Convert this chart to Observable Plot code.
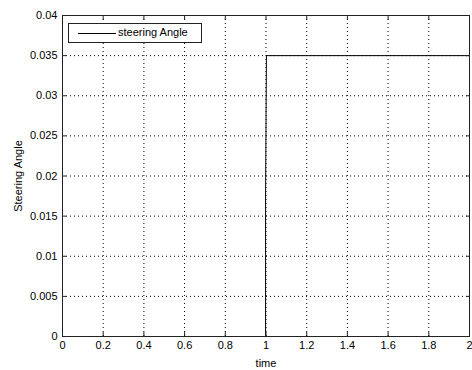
<!DOCTYPE html>
<html>
<head>
<meta charset="utf-8">
<script src="https://cdn.jsdelivr.net/npm/d3@7"></script>
<script src="https://cdn.jsdelivr.net/npm/@observablehq/plot@0.6"></script>
<style>
  html, body { margin: 0; padding: 0; background: #fff; }
  #wrap { position: relative; width: 472px; height: 370px; font-family: "Liberation Sans", Arial, sans-serif; }
  #legend { position: absolute; left: 68px; top: 23px; width: 132px; height: 18px; border: 1px solid #222; background: #fff; }
  #legend .sw { position: absolute; left: 9px; top: 9px; width: 38px; height: 0; border-top: 1px solid #000; }
  #legend .tx { position: absolute; left: 49px; top: 2px; font-size: 11px; color: #000; white-space: nowrap; }
</style>
</head>
<body>
<div id="wrap"></div>
<script>
const seriesName = "steering Angle";
const time = [0, 0.998, 0.998, 1.002, 2];
const angle = [0, 0, 0.0175, 0.035, 0.035];
const xTicks = [0, 0.2, 0.4, 0.6, 0.8, 1, 1.2, 1.4, 1.6, 1.8, 2];
const yTicks = [0, 0.005, 0.01, 0.015, 0.02, 0.025, 0.03, 0.035, 0.04];
const xTickLabels = ["0", "0.2", "0.4", "0.6", "0.8", "1", "1.2", "1.4", "1.6", "1.8", "2"];
const yTickLabels = ["0", "0.005", "0.01", "0.015", "0.02", "0.025", "0.03", "0.035", "0.04"];

const data = time.map((t, i) => ({t, v: angle[i]}));
const fx = d => xTickLabels[xTicks.indexOf(d)] ?? d;
const fy = d => yTickLabels[yTicks.indexOf(d)] ?? d;

const chart = Plot.plot({
  width: 472,
  height: 370,
  marginLeft: 62,
  marginRight: 3,
  marginTop: 15,
  marginBottom: 34,
  style: {fontFamily: "'Liberation Sans', Arial, sans-serif", fontSize: "11px", color: "#000", background: "#fff"},
  x: {domain: [0, 2]},
  y: {domain: [0, 0.04]},
  marks: [
    Plot.gridX(xTicks, {stroke: "#000", strokeOpacity: 1, strokeDasharray: "1,3"}),
    Plot.gridY(yTicks, {stroke: "#000", strokeOpacity: 1, strokeDasharray: "1,3"}),
    Plot.line(data, {x: "t", y: "v", stroke: "#000", strokeWidth: 1}),
    Plot.frame({stroke: "#222"}),
    Plot.axisX(xTicks, {anchor: "bottom", tickSize: -4, text: null, stroke: "#222", label: null}),
    Plot.axisX(xTicks, {anchor: "top", tickSize: -4, text: null, stroke: "#222", label: null}),
    Plot.axisY(yTicks, {anchor: "left", tickSize: -4, text: null, stroke: "#222", label: null}),
    Plot.axisY(yTicks, {anchor: "right", tickSize: -4, text: null, stroke: "#222", label: null}),
    Plot.axisX(xTicks, {anchor: "bottom", tickSize: 0, tickPadding: 5, tickFormat: fx, label: "time", labelAnchor: "center", labelArrow: "none", labelOffset: 30}),
    Plot.axisY(yTicks, {anchor: "left", tickSize: 0, tickPadding: 5, tickFormat: fy, label: "Steering Angle", labelAnchor: "center", labelArrow: "none", labelOffset: 48})
  ]
});
const wrap = document.getElementById("wrap");
wrap.appendChild(chart);
const lg = document.createElement("div");
lg.id = "legend";
lg.innerHTML = '<div class="sw"></div><div class="tx"></div>';
lg.querySelector(".tx").textContent = seriesName;
wrap.appendChild(lg);
</script>
</body>
</html>
